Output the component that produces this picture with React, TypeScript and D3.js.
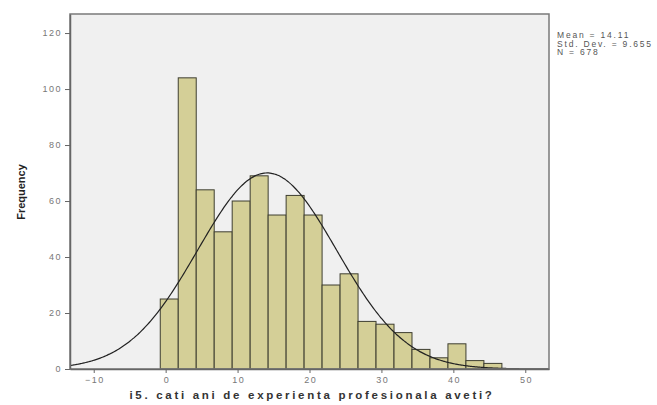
import React, { useEffect, useRef } from "react";
import * as d3 from "d3";

// histogram counts, bins of width 2.5 starting at binStart
const binStart = -0.75;
const binWidth = 2.5;
const counts = [25, 104, 64, 49, 60, 69, 55, 62, 55, 30, 34, 17, 16, 13, 7, 4, 9, 3, 2];

const xTicks = [-10, 0, 10, 20, 30, 40, 50];
const yTicks = [0, 20, 40, 60, 80, 100, 120];

const mean = 14.11;
const stdDev = 9.655;
const total = 678;
const statLines = ["Mean = 14.11", "Std. Dev. = 9.655", "N = 678"];

const xTitle = "i5. cati ani de experienta profesionala aveti?";
const yTitle = "Frequency";

const W = 657;
const H = 405;
const font = "Arial, 'Liberation Sans', sans-serif";

export default function App() {
  const svgRef = useRef<SVGSVGElement>(null);

  useEffect(() => {
    const svg = d3.select(svgRef.current);
    svg.selectAll("*").remove();

    const left = 70, right = 549, top = 14, bottom = 369;

    const x = d3.scaleLinear().domain([-13.3, 53.3]).range([left, right]);
    const y = d3.scaleLinear().domain([0, 126.8]).range([bottom, top]);

    // plot background
    svg.append("rect")
      .attr("x", left).attr("y", top)
      .attr("width", right - left).attr("height", bottom - top)
      .attr("fill", "#f0f0f0");

    const bins = counts.map((c, i) => ({ x0: binStart + i * binWidth, x1: binStart + (i + 1) * binWidth, c }));

    svg.append("g").selectAll("rect")
      .data(bins)
      .enter()
      .append("rect")
      .attr("x", d => x(d.x0))
      .attr("y", d => y(d.c))
      .attr("width", d => x(d.x1) - x(d.x0))
      .attr("height", d => y(0) - y(d.c))
      .attr("fill", "#d4cf97")
      .attr("stroke", "#3e3e30")
      .attr("stroke-width", 1);

    // normal curve
    const peak = total * binWidth / (stdDev * Math.sqrt(2 * Math.PI));
    const pts = d3.range(-13.3, 53.31, 0.2).map(v => [v, peak * Math.exp(-0.5 * ((v - mean) / stdDev) ** 2)]);
    const line = d3.line<number[]>()
      .x(d => x(d[0]))
      .y(d => y(d[1]))
      .curve(d3.curveBasis);
    svg.append("path")
      .attr("d", line(pts))
      .attr("fill", "none")
      .attr("stroke", "#222")
      .attr("stroke-width", 1.2);

    // frame
    svg.append("rect")
      .attr("x", left).attr("y", top)
      .attr("width", right - left).attr("height", bottom - top)
      .attr("fill", "none")
      .attr("stroke", "#7a7a7a")
      .attr("stroke-width", 1.5);

    // axes
    const yAxis = d3.axisLeft(y).tickValues(yTicks).tickSize(5).tickSizeOuter(0);
    const gy = svg.append("g").attr("transform", `translate(${left},0)`).call(yAxis);
    gy.select(".domain").attr("stroke", "#666").attr("stroke-width", 1.5);
    gy.selectAll("line").attr("stroke", "#666");
    gy.selectAll("text")
      .attr("fill", "#777")
      .attr("x", -8)
      .style("font-family", font)
      .style("font-size", "9px")
      .style("letter-spacing", "1.5px");

    const xAxis = d3.axisBottom(x).tickValues(xTicks).tickSize(4).tickSizeOuter(0);
    const gx = svg.append("g").attr("transform", `translate(0,${bottom})`).call(xAxis);
    gx.select(".domain").attr("stroke", "#666").attr("stroke-width", 1.5);
    gx.selectAll("line").attr("stroke", "#666");
    gx.selectAll("text")
      .attr("fill", "#777")
      .attr("y", 7)
      .attr("dy", "7px")
      .attr("dx", "0.75px")
      .style("font-family", font)
      .style("font-size", "9px")
      .style("letter-spacing", "1.5px");

    // titles
    svg.append("text")
      .attr("x", 312)
      .attr("y", 399)
      .attr("text-anchor", "middle")
      .style("font-family", font)
      .style("font-size", "11.5px")
      .style("font-weight", "bold")
      .style("letter-spacing", "2.7px")
      .attr("fill", "#333")
      .text(xTitle);

    svg.append("text")
      .attr("transform", `translate(25,192) rotate(-90)`)
      .attr("text-anchor", "middle")
      .style("font-family", font)
      .style("font-size", "11px")
      .style("font-weight", "bold")
      .attr("fill", "#222")
      .text(yTitle);

    svg.append("g").selectAll("text")
      .data(statLines)
      .enter()
      .append("text")
      .attr("x", 557)
      .attr("y", (d, i) => 38 + i * 8.5)
      .style("font-family", font)
      .style("font-size", "8.5px")
      .style("letter-spacing", "1.8px")
      .attr("fill", "#555")
      .text(d => d);
  }, []);

  return (
    <div style={{ position: "fixed", left: 0, top: 0 }}>
      <svg ref={svgRef} width={W} height={H} style={{ display: "block", background: "#fff" }}></svg>
    </div>
  );
}
